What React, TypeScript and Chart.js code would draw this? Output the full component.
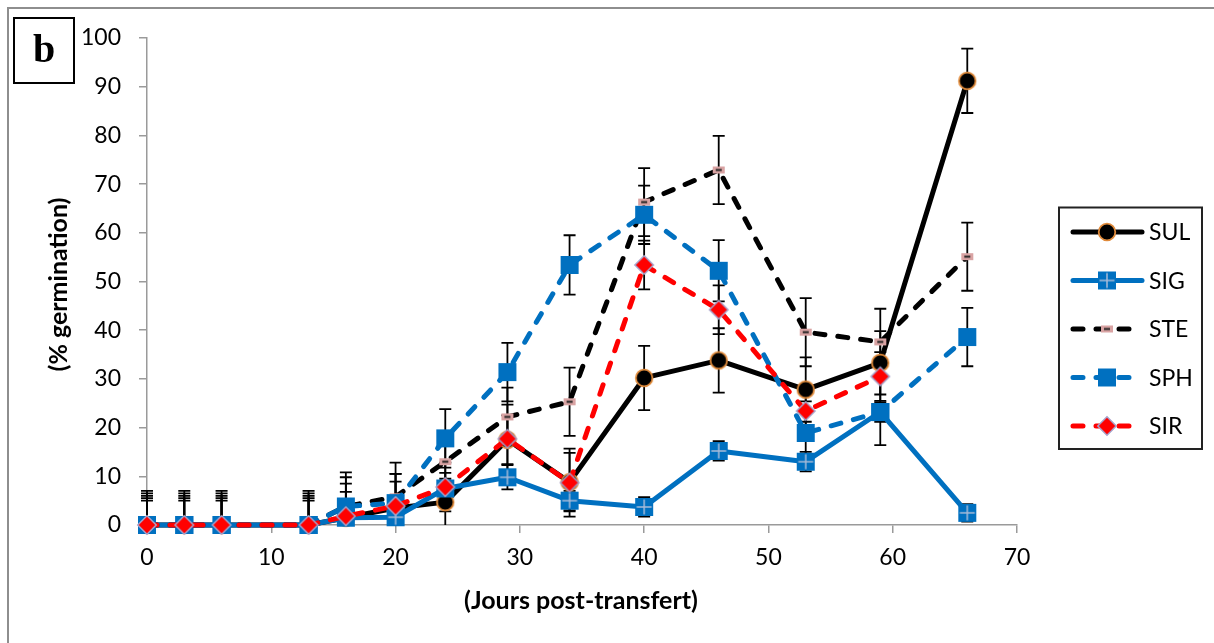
import React, { useEffect, useRef } from 'react';
import { Chart, registerables } from 'chart.js';
Chart.register(...registerables);

// ---- Data ----
const days = [0, 3, 6, 13, 16, 20, 24, 29, 34, 40, 46, 53, 59, 66];
const seriesNames = ['SUL', 'SIG', 'STE', 'SPH', 'SIR'];
const sul = [0, 0, 0, 0, 1.5, 3.5, 4.7, 17.5, 8.8, 30.2, 33.8, 27.8, 33.3, 91.2];
const sulErr = [6.5, 6.5, 6.5, 6.5, 7, 7, 6, 5, 6, 6.6, 6.6, 6.6, 6.5, 6.6];
const sig = [0, 0, 0, 0, 1.5, 1.6, 7.5, 9.8, 5.0, 3.7, 15.2, 13.0, 23.2, 2.5];
const sigErr = [6, 6, 6, 6, 2, 2, 2, 2.5, 2, 2, 2, 2, 2, 1.8];
const ste = [0, 0, 0, 0, 3.8, 5.8, 13.0, 22.2, 25.3, 66.3, 72.9, 39.6, 37.6, 55.1];
const steErr = [7, 7, 7, 7, 7, 7, 6, 6, 7, 7, 7, 7, 6.8, 7];
const sph = [0, 0, 0, 0, 3.8, 4.5, 17.8, 31.4, 53.4, 63.7, 52.2, 18.9, 23.2, 38.6];
const sphErr = [5.5, 5.5, 5.5, 5.5, 6, 6, 6, 6, 6.1, 6, 6.3, 6.5, 6.8, 6];
const sirDays = [0, 3, 6, 13, 16, 20, 24, 29, 34, 40, 46, 53, 59];
const sir = [0, 0, 0, 0, 1.8, 3.9, 7.8, 17.7, 8.7, 53.4, 44.2, 23.4, 30.5];
const sirErr = [5, 5, 5, 5, 5, 5, 5, 7, 7, 5, 5, 5, 5];
const xTitle = '(Jours post-transfert)';
const yTitle = '(% germination)';
const panelLabel = 'b';

const FONT = 'Lato, Calibri, "Open Sans", sans-serif';
const BLUE = '#0070C0';

function makeMarker(kind: string): HTMLCanvasElement {
  const c = document.createElement('canvas');
  const s = kind === 'STE' ? 14 : 22;
  c.width = s;
  c.height = kind === 'STE' ? 9 : s;
  const g = c.getContext('2d')!;
  if (kind === 'SUL') {
    g.beginPath();
    g.arc(11, 11, 8.3, 0, Math.PI * 2);
    g.fillStyle = '#000';
    g.fill();
    g.lineWidth = 1.8;
    g.strokeStyle = '#E08A3A';
    g.stroke();
  } else if (kind === 'SIG') {
    g.fillStyle = BLUE;
    g.fillRect(2, 2, 18, 18);
    g.strokeStyle = '#A7BAD8';
    g.lineWidth = 1.5;
    g.beginPath();
    g.moveTo(11, 3.5);
    g.lineTo(11, 18.5);
    g.moveTo(3.5, 11);
    g.lineTo(18.5, 11);
    g.stroke();
  } else if (kind === 'STE') {
    g.fillStyle = '#D9A3A3';
    g.fillRect(1, 1, 12, 7);
    g.strokeStyle = '#222';
    g.lineWidth = 2;
    g.beginPath();
    g.moveTo(4, 4.5);
    g.lineTo(10, 4.5);
    g.stroke();
  } else if (kind === 'SPH') {
    g.fillStyle = BLUE;
    g.fillRect(2, 2, 18, 18);
  } else if (kind === 'SIR') {
    g.beginPath();
    g.moveTo(11, 1.8);
    g.lineTo(20.2, 11);
    g.lineTo(11, 20.2);
    g.lineTo(1.8, 11);
    g.closePath();
    g.fillStyle = '#FF0000';
    g.fill();
    g.lineWidth = 1.5;
    g.strokeStyle = '#A7A0C8';
    g.stroke();
  }
  return c;
}

const errorBarsPlugin = {
  id: 'errorBars',
  beforeDatasetsDraw(chart: any) {
    const { ctx, chartArea, scales } = chart;
    ctx.save();
    ctx.beginPath();
    ctx.rect(chartArea.left - 10, chartArea.top - 10, chartArea.right - chartArea.left + 20, chartArea.bottom - chartArea.top + 10);
    ctx.clip();
    ctx.strokeStyle = '#000';
    ctx.lineWidth = 1.8;
    chart.data.datasets.forEach((ds: any) => {
      const errs = ds.errors as number[];
      if (!errs) return;
      ds.data.forEach((p: any, i: number) => {
        const x = scales.x.getPixelForValue(p.x);
        const yt = scales.y.getPixelForValue(p.y + errs[i]);
        const yb = scales.y.getPixelForValue(p.y - errs[i]);
        ctx.beginPath();
        ctx.moveTo(x, yt);
        ctx.lineTo(x, yb);
        ctx.moveTo(x - 6, yt);
        ctx.lineTo(x + 6, yt);
        ctx.moveTo(x - 6, yb);
        ctx.lineTo(x + 6, yb);
        ctx.stroke();
      });
    });
    ctx.restore();
  },
};

const decorPlugin = {
  id: 'decor',
  afterDraw(chart: any) {
    const { ctx, chartArea } = chart;
    ctx.save();
    // outer frame (left + top)
    ctx.strokeStyle = '#8E8E8E';
    ctx.lineWidth = 2;
    ctx.beginPath();
    ctx.moveTo(8, 643);
    ctx.lineTo(8, 8);
    ctx.lineTo(1214, 8);
    ctx.stroke();
    // panel label box
    ctx.strokeStyle = '#000';
    ctx.lineWidth = 2;
    ctx.strokeRect(14, 18, 60, 65);
    ctx.fillStyle = '#000';
    ctx.font = 'bold 40px "Liberation Serif", "DejaVu Serif", serif';
    ctx.textAlign = 'center';
    ctx.textBaseline = 'middle';
    ctx.fillText(panelLabel, 44, 52);
    // axis titles
    ctx.font = 'bold 25px ' + FONT;
    ctx.fillText(xTitle, 581, 601);
    ctx.save();
    ctx.translate(59, (chartArea.top + chartArea.bottom) / 2 + 3);
    ctx.rotate(-Math.PI / 2);
    ctx.fillText(yTitle, 0, 0);
    ctx.restore();
    // legend
    ctx.strokeStyle = '#222';
    ctx.lineWidth = 2;
    ctx.strokeRect(1059, 207.5, 143, 241.5);
    chart.data.datasets.forEach((ds: any, i: number) => {
      const y = 232 + i * 48.5;
      ctx.save();
      ctx.strokeStyle = ds.borderColor;
      ctx.lineWidth = ds.borderWidth;
      ctx.lineCap = 'round';
      ctx.setLineDash(ds.borderDash || []);
      ctx.beginPath();
      ctx.moveTo(1073, y);
      ctx.lineTo(1142, y);
      ctx.stroke();
      ctx.restore();
      const m = ds.pointStyle as HTMLCanvasElement;
      ctx.drawImage(m, 1107 - m.width / 2, y - m.height / 2);
      ctx.fillStyle = '#000';
      ctx.font = '23px ' + FONT;
      ctx.textAlign = 'left';
      ctx.textBaseline = 'middle';
      ctx.fillText(ds.label, 1149, y + 1);
    });
    ctx.restore();
  },
};

export default function App() {
  const ref = useRef<HTMLCanvasElement>(null);
  useEffect(() => {
    const mk = (name: string, xs: number[], ys: number[], errs: number[], color: string, dashed: boolean, order: number) => ({
      label: name,
      data: xs.map((x, i) => ({ x, y: ys[i] })),
      showLine: true,
      borderColor: color,
      backgroundColor: color,
      borderWidth: 5,
      borderDash: dashed ? [10, 13] : [],
      borderCapStyle: 'round',
      borderJoinStyle: 'round',
      pointStyle: makeMarker(name),
      pointRadius: 9,
      clip: false,
      order,
      errors: errs,
    });
    const chart = new Chart(ref.current!, {
      type: 'scatter',
      data: {
        datasets: [
          mk(seriesNames[0], days, sul, sulErr, '#000000', false, 4),
          mk(seriesNames[1], days, sig, sigErr, BLUE, false, 3),
          mk(seriesNames[2], days, ste, steErr, '#000000', true, 2),
          mk(seriesNames[3], days, sph, sphErr, BLUE, true, 1),
          mk(seriesNames[4], sirDays, sir, sirErr, '#FF0000', true, 0),
        ] as any,
      },
      options: {
        animation: false,
        responsive: false,
        devicePixelRatio: 1,
        layout: { padding: { left: 0, right: 197, top: 38, bottom: 0 } },
        plugins: { legend: { display: false }, tooltip: { enabled: false } },
        scales: {
          x: {
            type: 'linear',
            min: 0,
            max: 70,
            ticks: { stepSize: 10, autoSkip: false, color: '#000', font: { family: FONT, size: 23 }, padding: 11 },
            grid: { drawOnChartArea: false, drawTicks: true, tickLength: 8, color: '#9A9A9A', lineWidth: 1.5 },
            border: { color: '#9A9A9A', width: 1.5 },
            afterFit: (s: any) => { s.height = 118; },
          },
          y: {
            min: 0,
            max: 100,
            ticks: { stepSize: 10, autoSkip: false, color: '#000', font: { family: FONT, size: 23 }, padding: 18 },
            grid: { drawOnChartArea: false, drawTicks: true, tickLength: 8, color: '#9A9A9A', lineWidth: 1.5 },
            border: { color: '#9A9A9A', width: 1.5 },
            afterFit: (s: any) => { s.width = 147; },
          },
        },
      },
      plugins: [errorBarsPlugin, decorPlugin],
    } as any);
    return () => chart.destroy();
  }, []);
  return (
    <div style={{ position: 'absolute', left: 0, top: 0, width: 1214, height: 643, background: '#fff' }}>
      <canvas ref={ref} width={1214} height={643} style={{ display: 'block', width: 1214, height: 643 }} />
    </div>
  );
}
